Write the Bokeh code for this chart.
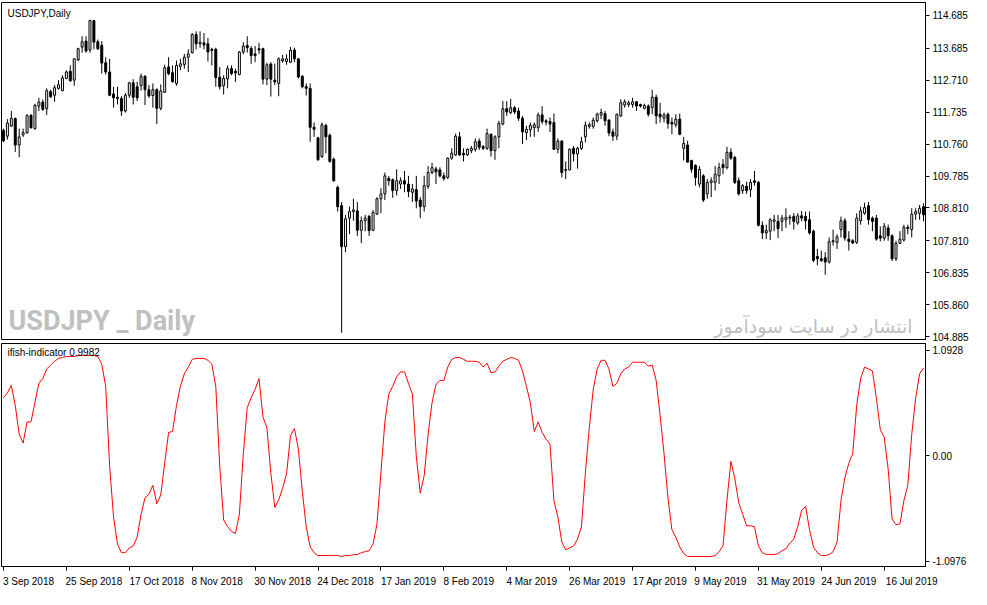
from bokeh.plotting import figure
from bokeh.models import FixedTicker, Range1d, Label, ColumnDataSource
from bokeh.layouts import column
from bokeh.embed import file_html
from bokeh.resources import INLINE

# ---------------- data (USDJPY daily, 3 Sep 2018 .. 30 Jul 2019) ----------------
opens = [
    111.18, 111.00, 111.31, 111.54, 110.73, 111.04, 111.10, 111.64, 111.23, 111.92,
    112.04, 111.84, 112.36, 112.25, 112.46, 112.39, 112.76, 112.98, 112.71, 113.33,
    113.72, 113.90, 113.63, 114.53, 113.88, 113.77, 113.24, 112.96, 112.29, 112.15,
    112.15, 111.77, 112.25, 112.63, 112.51, 112.54, 112.83, 112.42, 112.24, 112.42,
    111.85, 112.34, 113.11, 112.94, 112.61, 113.13, 113.19, 113.41, 113.55, 114.10,
    113.82, 113.85, 113.82, 113.65, 113.65, 112.80, 112.54, 112.75, 113.06, 112.98,
    112.88, 113.57, 113.77, 113.68, 113.51, 113.67, 113.67, 112.74, 113.20, 112.71,
    112.61, 113.30, 113.28, 113.26, 113.63, 113.36, 112.83, 112.51, 112.46, 111.27,
    110.95, 110.38, 111.33, 111.03, 110.30, 109.44, 108.88, 107.63, 108.50, 108.70,
    108.72, 108.13, 108.42, 108.55, 108.13, 108.62, 109.09, 109.24, 109.71, 109.67,
    109.34, 109.54, 109.64, 109.54, 109.29, 109.37, 109.05, 108.85, 109.47, 109.89,
    110.00, 109.97, 109.79, 109.74, 110.33, 110.43, 110.98, 110.48, 110.43, 110.56,
    110.60, 110.85, 110.68, 110.63, 111.06, 110.56, 110.98, 111.37, 111.84, 111.72,
    111.87, 111.77, 111.55, 111.11, 111.20, 111.26, 111.26, 111.65, 111.47, 111.45,
    111.42, 110.60, 110.85, 109.98, 109.97, 110.63, 110.46, 110.63, 110.98, 111.30,
    111.30, 111.47, 111.65, 111.69, 111.49, 111.13, 111.00, 111.62, 111.95, 111.97,
    111.97, 112.05, 111.97, 111.85, 111.92, 111.87, 112.19, 111.67, 111.55, 111.67,
    111.42, 111.35, 111.52, 110.63, 110.73, 110.26, 110.11, 109.54, 109.79, 109.24,
    109.59, 109.59, 109.79, 110.14, 110.04, 110.51, 110.35, 109.64, 109.34, 109.47,
    109.37, 109.64, 109.59, 108.28, 108.05, 108.10, 108.40, 108.40, 108.40, 108.45,
    108.50, 108.55, 108.35, 108.57, 108.55, 108.45, 108.10, 107.33, 107.26, 107.29,
    107.16, 107.78, 107.76, 108.15, 108.42, 107.86, 107.81, 107.76, 108.42, 108.65,
    108.88, 108.50, 108.50, 107.96, 107.89, 108.20, 107.96, 107.26, 107.73, 107.83,
    108.22, 108.15, 108.62, 108.65, 108.85,
]
highs = [
    111.23, 111.52, 111.77, 111.57, 111.23, 111.23, 111.67, 111.67, 111.99, 112.17,
    112.12, 112.46, 112.42, 112.56, 112.71, 112.86, 113.01, 113.16, 113.38, 113.70,
    114.05, 114.05, 114.55, 114.55, 113.95, 113.90, 113.41, 113.36, 112.51, 112.51,
    112.22, 112.32, 112.66, 112.74, 112.66, 112.91, 112.86, 112.56, 112.61, 112.46,
    112.58, 113.18, 113.41, 113.16, 113.31, 113.36, 113.51, 113.65, 114.15, 114.20,
    114.20, 114.15, 114.00, 113.70, 113.70, 113.11, 112.86, 113.16, 113.16, 113.06,
    113.60, 113.87, 114.05, 113.75, 113.75, 113.85, 113.70, 113.24, 113.26, 113.21,
    113.41, 113.48, 113.50, 113.72, 113.70, 113.38, 112.86, 112.61, 112.61, 111.42,
    110.98, 111.42, 111.38, 111.08, 110.35, 109.49, 108.99, 108.60, 108.85, 109.09,
    108.99, 108.55, 108.60, 108.60, 108.75, 109.14, 109.41, 109.89, 109.79, 109.71,
    109.99, 109.74, 109.94, 109.79, 109.54, 109.79, 109.14, 109.79, 110.09, 110.19,
    110.07, 110.05, 109.89, 110.35, 110.63, 111.08, 111.13, 110.63, 110.63, 110.70,
    110.93, 110.93, 110.73, 111.23, 111.08, 111.03, 111.47, 112.07, 112.07, 112.14,
    111.92, 111.87, 111.62, 111.32, 111.42, 111.42, 111.72, 111.92, 111.52, 111.57,
    111.69, 110.93, 110.88, 110.23, 110.63, 110.70, 110.68, 110.98, 111.45, 111.42,
    111.57, 111.72, 111.84, 111.77, 111.52, 111.23, 111.69, 112.12, 112.12, 112.09,
    112.17, 112.07, 111.99, 111.99, 111.97, 112.41, 112.27, 112.02, 111.72, 111.72,
    111.57, 111.67, 111.69, 110.98, 110.86, 110.28, 110.14, 110.09, 109.84, 109.69,
    109.74, 110.09, 110.19, 110.30, 110.68, 110.63, 110.40, 109.74, 109.54, 109.61,
    109.69, 109.94, 109.64, 108.40, 108.30, 108.50, 108.60, 108.60, 108.60, 108.80,
    108.60, 108.65, 108.65, 108.72, 108.70, 108.70, 108.15, 107.56, 107.51, 107.46,
    107.91, 108.15, 108.01, 108.55, 108.50, 108.10, 107.86, 108.65, 108.85, 108.97,
    108.99, 108.55, 108.60, 108.25, 108.35, 108.30, 108.01, 107.81, 108.10, 108.30,
    108.30, 108.80, 108.80, 108.90, 108.95,
]
lows = [
    110.82, 110.90, 111.28, 110.52, 110.36, 110.98, 111.08, 111.23, 111.20, 111.77,
    111.77, 111.65, 112.17, 112.05, 112.42, 112.37, 112.74, 112.66, 112.54, 113.29,
    113.55, 113.55, 113.55, 113.65, 113.63, 112.91, 112.88, 112.22, 111.87, 111.97,
    111.62, 111.72, 112.17, 111.97, 112.07, 112.39, 111.95, 112.17, 111.87, 111.37,
    111.79, 112.32, 112.86, 112.64, 112.54, 113.01, 113.06, 112.96, 113.52, 113.65,
    113.70, 113.65, 113.28, 113.16, 112.51, 112.42, 112.27, 112.46, 112.86, 112.66,
    112.86, 113.50, 113.55, 113.21, 113.26, 113.51, 112.58, 112.56, 112.21, 112.56,
    112.22, 113.24, 113.18, 113.23, 113.26, 112.76, 112.46, 112.24, 110.83, 110.98,
    110.25, 110.33, 110.48, 110.19, 109.61, 108.70, 105.00, 107.46, 108.01, 108.42,
    107.96, 107.74, 108.10, 107.96, 108.10, 108.60, 108.65, 109.05, 109.49, 109.12,
    109.19, 109.39, 109.29, 109.14, 108.99, 108.80, 108.50, 108.70, 109.39, 109.84,
    109.54, 109.74, 109.64, 109.69, 110.28, 110.40, 110.40, 110.23, 110.40, 110.48,
    110.53, 110.58, 110.58, 110.58, 110.38, 110.28, 110.63, 111.33, 111.62, 111.67,
    111.67, 111.47, 110.76, 110.88, 110.98, 110.98, 111.13, 111.37, 111.33, 111.13,
    110.58, 110.48, 109.74, 109.69, 109.96, 110.23, 110.01, 110.58, 110.81, 111.23,
    111.23, 111.42, 111.52, 111.32, 111.00, 110.86, 110.88, 111.59, 111.87, 111.89,
    111.87, 111.77, 111.87, 111.82, 111.60, 111.67, 111.37, 111.42, 111.42, 111.23,
    111.06, 111.27, 111.03, 110.26, 110.19, 109.89, 109.49, 109.44, 108.99, 109.09,
    109.14, 109.34, 109.54, 109.84, 109.99, 110.28, 109.54, 109.19, 109.24, 109.24,
    109.14, 109.49, 108.25, 107.86, 107.86, 107.83, 108.10, 107.89, 108.10, 108.20,
    108.30, 108.15, 108.30, 108.40, 108.15, 108.00, 107.16, 107.06, 107.16, 106.77,
    107.11, 107.66, 107.56, 107.91, 107.81, 107.51, 107.71, 107.71, 108.30, 108.60,
    108.30, 108.10, 107.81, 107.79, 107.81, 107.81, 107.19, 107.19, 107.71, 107.79,
    108.01, 107.91, 108.45, 108.45, 108.40,
]
closes = [
    110.86, 111.40, 111.54, 110.73, 110.98, 111.11, 111.63, 111.26, 111.94, 112.04,
    111.82, 112.39, 112.20, 112.48, 112.57, 112.78, 112.96, 112.69, 113.36, 113.67,
    113.88, 113.60, 114.53, 113.87, 113.67, 113.23, 112.96, 112.25, 112.17, 112.19,
    111.77, 112.25, 112.63, 112.19, 112.17, 112.83, 112.42, 112.23, 112.42, 111.85,
    112.38, 113.09, 112.91, 112.66, 113.16, 113.21, 113.41, 113.51, 114.10, 113.82,
    113.87, 113.78, 113.57, 113.62, 112.79, 112.51, 112.76, 113.06, 112.91, 112.93,
    113.57, 113.75, 113.70, 113.46, 113.46, 113.63, 112.74, 113.18, 112.74, 112.66,
    113.36, 113.36, 113.36, 113.62, 113.36, 112.81, 112.51, 112.46, 111.27, 111.21,
    110.28, 111.35, 110.98, 110.23, 109.64, 108.85, 107.63, 108.48, 108.70, 108.75,
    108.13, 108.42, 108.50, 108.12, 108.67, 109.09, 109.24, 109.79, 109.64, 109.34,
    109.64, 109.64, 109.54, 109.31, 109.39, 109.02, 108.85, 109.49, 109.89, 110.04,
    109.91, 109.79, 109.71, 110.33, 110.48, 111.00, 110.43, 110.43, 110.60, 110.63,
    110.83, 110.66, 110.63, 111.08, 110.56, 110.98, 111.39, 111.84, 111.74, 111.87,
    111.74, 111.55, 111.13, 111.21, 111.33, 111.35, 111.65, 111.45, 111.43, 111.37,
    110.60, 110.85, 109.89, 109.96, 110.60, 110.46, 110.63, 110.83, 111.33, 111.35,
    111.49, 111.67, 111.72, 111.47, 111.10, 111.00, 111.67, 112.02, 112.05, 112.02,
    112.05, 111.92, 111.92, 111.94, 111.67, 112.19, 111.62, 111.59, 111.65, 111.39,
    111.37, 111.52, 111.06, 110.78, 110.21, 109.99, 109.74, 109.99, 109.05, 109.59,
    109.64, 109.84, 110.04, 110.04, 110.51, 110.33, 109.59, 109.24, 109.49, 109.34,
    109.59, 109.59, 108.28, 108.05, 108.12, 108.45, 108.45, 108.18, 108.50, 108.52,
    108.53, 108.40, 108.57, 108.50, 108.42, 108.05, 107.21, 107.26, 107.21, 107.16,
    107.78, 107.81, 107.93, 108.42, 107.89, 107.79, 107.74, 108.50, 108.72, 108.82,
    108.45, 108.40, 107.86, 107.89, 108.25, 107.96, 107.26, 107.73, 107.86, 108.22,
    108.18, 108.62, 108.70, 108.80, 108.60,
]
ifish = [
    0.60, 0.65, 0.73, 0.52, 0.22, 0.13, 0.35, 0.35, 0.55, 0.75,
    0.80, 0.90, 0.94, 0.98, 1.01, 1.02, 1.03, 1.03, 1.03, 1.04,
    1.04, 1.04, 1.04, 1.04, 1.03, 0.95, 0.72, -0.11, -0.64, -0.92,
    -1.01, -1.01, -0.96, -0.94, -0.85, -0.61, -0.44, -0.40, -0.31, -0.50,
    -0.41, -0.08, 0.24, 0.25, 0.52, 0.72, 0.85, 0.92, 1.00, 1.01,
    1.01, 1.01, 0.99, 0.95, 0.72, -0.11, -0.67, -0.74, -0.79, -0.81,
    -0.61, 0.02, 0.50, 0.60, 0.69, 0.80, 0.40, 0.29, -0.18, -0.54,
    -0.46, -0.34, -0.19, 0.21, 0.28, 0.07, -0.37, -0.74, -0.95, -1.01,
    -1.04, -1.04, -1.04, -1.04, -1.04, -1.04, -1.05, -1.04, -1.04, -1.03,
    -1.03, -1.01, -1.00, -0.99, -0.92, -0.71, -0.18, 0.35, 0.64, 0.72,
    0.82, 0.87, 0.87, 0.75, 0.64, -0.01, -0.39, -0.21, 0.22, 0.55,
    0.74, 0.78, 0.78, 0.92, 1.00, 1.02, 1.02, 1.00, 0.98, 0.98,
    0.98, 0.97, 0.92, 0.96, 0.86, 0.87, 0.93, 0.98, 1.00, 1.02,
    1.01, 0.99, 0.88, 0.72, 0.55, 0.25, 0.35, 0.24, 0.17, 0.12,
    -0.47, -0.64, -0.90, -0.98, -0.96, -0.94, -0.87, -0.74, -0.18, 0.29,
    0.69, 0.90, 0.99, 0.99, 0.90, 0.72, 0.75, 0.85, 0.90, 0.92,
    0.97, 0.97, 0.97, 0.97, 0.93, 0.94, 0.78, 0.42, 0.02, -0.44,
    -0.77, -0.85, -0.95, -1.02, -1.05, -1.05, -1.05, -1.05, -1.05, -1.05,
    -1.05, -1.04, -1.00, -0.94, -0.47, -0.06, -0.24, -0.49, -0.61, -0.73,
    -0.73, -0.74, -0.94, -1.01, -1.03, -1.03, -1.03, -1.02, -0.99, -0.97,
    -0.91, -0.87, -0.74, -0.57, -0.53, -0.77, -0.95, -1.01, -1.04, -1.04,
    -1.03, -1.00, -0.90, -0.47, -0.23, -0.08, 0.02, 0.52, 0.80, 0.92,
    0.90, 0.88, 0.60, 0.27, 0.19, -0.14, -0.66, -0.72, -0.71, -0.47,
    -0.31, 0.22, 0.60, 0.85, 0.91,
]
date_tick_bars = [0, 16, 32, 48, 64, 80, 96, 112, 128, 144, 160, 176, 192, 208, 224]
date_labels = ["3 Sep 2018", "25 Sep 2018", "17 Oct 2018", "8 Nov 2018", "30 Nov 2018",
               "24 Dec 2018", "17 Jan 2019", "8 Feb 2019", "4 Mar 2019", "26 Mar 2019",
               "17 Apr 2019", "9 May 2019", "31 May 2019", "24 Jun 2019", "16 Jul 2019"]
price_ticks = [104.885, 105.860, 106.835, 107.810, 108.810, 109.785,
               110.760, 111.735, 112.710, 113.685, 114.685]
ind_ticks = [-1.0976, 0.0, 1.0928]
ind_labels = ["-1.0976", "0.00", "1.0928"]
symbol_title = "USDJPY,Daily"
indicator_title = "ifish-indicator 0.9982"
watermark_left = "USDJPY _ Daily"
watermark_right = "انتشار در سایت سودآموز"

# ---------------- layout constants ----------------
W = 971
FONT = "Liberation Sans"
FS = "10px"
N = len(closes)
xs = list(range(N))
FRAME_W = W - 1 - 46
PPB = FRAME_W / N
H1_FRAME = 337
H2_FRAME = 225

x_range = Range1d(-0.5, N - 0.5)

up = [c >= o for o, c in zip(opens, closes)]
src = ColumnDataSource(dict(
    x=xs, high=highs, low=lows,
    top=[max(o, c) for o, c in zip(opens, closes)],
    bottom=[min(o, c) for o, c in zip(opens, closes)],
    fill=["#ffffff" if u else "#000000" for u in up],
))

def style(p):
    p.grid.visible = False
    p.outline_line_color = "#000000"
    p.outline_line_width = 1
    p.background_fill_color = "#ffffff"
    p.border_fill_color = "#ffffff"

def style_yaxis(a):
    a.axis_line_color = "#000000"
    a.major_tick_line_color = "#000000"
    a.major_tick_out = 4
    a.major_tick_in = 0
    a.minor_tick_line_color = None
    a.major_label_standoff = 3
    a.major_label_text_font = FONT
    a.major_label_text_font_size = FS
    a.major_label_text_color = "#000000"

# ---------------- price panel ----------------
p1 = figure(width=W, height=2 + H1_FRAME + 3, x_range=x_range,
            y_range=Range1d(104.796, 115.08),
            x_axis_location=None, y_axis_location="right",
            output_backend="svg", toolbar_location=None,
            min_border_left=1, min_border_right=46, min_border_top=2, min_border_bottom=3)
style(p1)
p1.segment(x0="x", y0="low", x1="x", y1="high", source=src, line_color="#000000", line_width=1)
p1.vbar(x="x", width=0.5, top="top", bottom="bottom", source=src,
        fill_color="fill", line_color="#000000", line_width=1)

ya = p1.yaxis[0]
ya.ticker = FixedTicker(ticks=price_ticks, minor_ticks=[])
ya.major_label_overrides = {t: "%.3f" % t for t in price_ticks}
style_yaxis(ya)

p1.add_layout(Label(x=6, y=H1_FRAME - 5, x_units="screen", y_units="screen", text=symbol_title,
                    text_font=FONT, text_font_size=FS, text_baseline="top",
                    text_color="#000000"))
p1.add_layout(Label(x=7, y=3, x_units="screen", y_units="screen", text=watermark_left,
                    text_font="Roboto", text_font_style="bold", text_font_size="27px",
                    text_baseline="bottom", text_color="#c0c0c0"))
p1.add_layout(Label(x=FRAME_W - 13, y=14, x_units="screen", y_units="screen",
                    text=watermark_right, text_font="DejaVu Sans", text_font_size="19px",
                    text_align="right", text_baseline="alphabetic", text_color="#c0c0c0"))

# ---------------- indicator panel ----------------
p2 = figure(width=W, height=1 + H2_FRAME + 21, x_range=x_range, y_range=Range1d(-1.154, 1.165),
            y_axis_location="right", output_backend="svg", toolbar_location=None,
            min_border_left=1, min_border_right=46, min_border_top=1, min_border_bottom=21)
style(p2)
p2.line(xs, ifish, line_color="#ff0000", line_width=1)

ya2 = p2.yaxis[0]
ya2.ticker = FixedTicker(ticks=ind_ticks, minor_ticks=[])
ya2.major_label_overrides = dict(zip(ind_ticks, ind_labels))
style_yaxis(ya2)

# date labels start at their bar (left aligned): shift label centre by half its width
CHAR_W = 5.0
label_pos = [b + len(s) * CHAR_W / 2.0 / PPB for b, s in zip(date_tick_bars, date_labels)]
xa = p2.xaxis[0]
xa.ticker = FixedTicker(ticks=label_pos, minor_ticks=date_tick_bars)
xa.major_label_overrides = dict(zip(label_pos, date_labels))
xa.axis_line_color = "#000000"
xa.major_tick_line_color = None
xa.major_tick_out = 0
xa.major_tick_in = 0
xa.minor_tick_line_color = "#000000"
xa.minor_tick_out = 4
xa.minor_tick_in = 0
xa.major_label_standoff = 5
xa.major_label_text_font = FONT
xa.major_label_text_font_size = FS
xa.major_label_text_color = "#000000"

p2.add_layout(Label(x=6, y=H2_FRAME - 5, x_units="screen", y_units="screen", text=indicator_title,
                    text_font=FONT, text_font_size=FS, text_baseline="top",
                    text_color="#000000"))

layout = column(p1, p2, spacing=0)
open("out.html", "w").write(file_html(layout, INLINE))
